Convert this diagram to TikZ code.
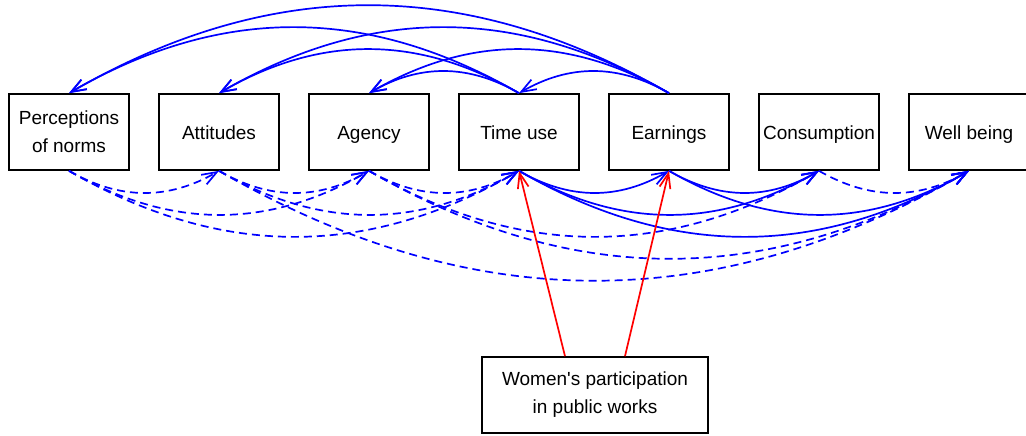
\documentclass[tikz,border=0pt]{standalone}
\usepackage{fontspec}
\setmainfont{Liberation Sans}
\usetikzlibrary{arrows.meta}
\begin{document}
\begin{tikzpicture}[x=1pt,y=-1pt,
  box/.style={draw=black,line width=1.7pt,minimum width=120pt,minimum height=76pt,inner sep=0pt,align=center,font=\fontsize{19}{28}\selectfont},
  one/.style={box,text height=19pt,text depth=4pt},
  arr/.style={line width=1.7pt,blue,-{Straight Barb[length=15pt,width=11pt]},bend right=30},
  dsh/.style={arr,dash pattern=on 8pt off 5pt},
  redarr/.style={line width=1.7pt,red,-{Straight Barb[length=15pt,width=11pt]}}
]
\useasboundingbox (0,0) rectangle (1026,436);
\node[box] (P) at (69,132) {Perceptions\\of norms};
\node[one] (At) at (219,132) {Attitudes};
\node[one] (Ag) at (369,132) {Agency};
\node[one] (T) at (519,132) {Time use};
\node[one] (E) at (669,132) {Earnings};
\node[one] (C) at (819,132) {Consumption};
\node[one] (W) at (969,132) {Well being};
\node[box,minimum width=226pt] (WP) at (595,395) {Women\textquotesingle s participation\\in public works};
\coordinate (WPl) at ([xshift=-30pt]WP.north);
\coordinate (WPr) at ([xshift=30pt]WP.north);
% top arcs
\draw[arr] (E.north) to (P.north);
\draw[arr] (E.north) to (At.north);
\draw[arr] (E.north) to (Ag.north);
\draw[arr] (E.north) to (T.north);
\draw[arr] (T.north) to (P.north);
\draw[arr] (T.north) to (At.north);
\draw[arr] (T.north) to (Ag.north);
% lower solid arcs
\draw[arr] (T.south) to (E.south);
\draw[arr] (T.south) to (C.south);
\draw[arr] (T.south) to (W.south);
\draw[arr] (E.south) to (C.south);
\draw[arr] (E.south) to (W.south);
% lower dashed arcs
\draw[dsh] (P.south) to (At.south);
\draw[dsh] (At.south) to (Ag.south);
\draw[dsh] (Ag.south) to (T.south);
\draw[dsh] (C.south) to (W.south);
\draw[dsh] (P.south) to (Ag.south);
\draw[dsh] (At.south) to (T.south);
\draw[dsh] (P.south) to (T.south);
\draw[dsh] (Ag.south) to (C.south);
\draw[dsh] (Ag.south) to (W.south);
\draw[dsh] (At.south) to (W.south);
% red
\draw[redarr] (WPl) -- (T.south);
\draw[redarr] (WPr) -- (E.south);
\end{tikzpicture}
\end{document}
